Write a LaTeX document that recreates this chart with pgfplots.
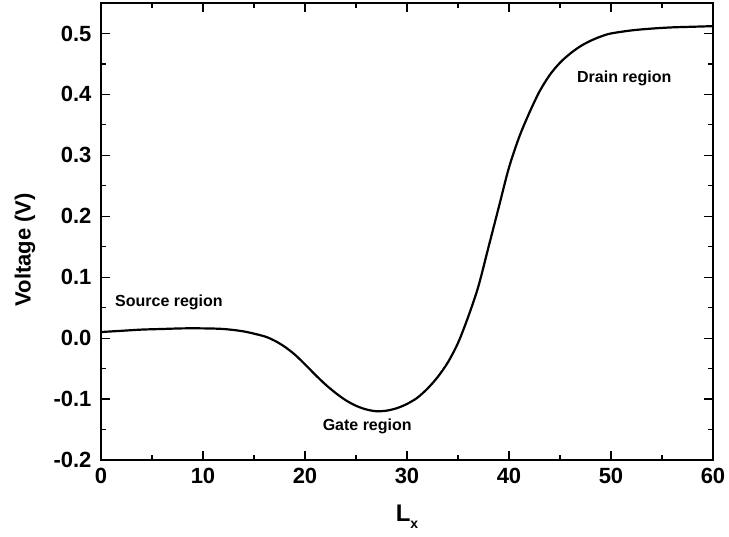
\documentclass[border=0pt]{standalone}
\usepackage{pgfplots}
\pgfplotsset{compat=1.18}
\usepackage{fontspec}
\setmainfont{Liberation Sans}
\begin{document}
\begin{tikzpicture}
\begin{axis}[
  at={(0,0)}, anchor=south west,
  scale only axis,
  width=612pt, height=457pt,
  xmin=0, xmax=60, ymin=-0.2, ymax=0.55,
  axis line style={line width=1.6pt},
  xtick={0,10,...,60},
  xticklabels={0,10,20,30,40,50,60},
  ytick={-0.2,-0.1,0,0.1,0.2,0.3,0.4,0.5},
  yticklabels={-0.2,-0.1,0.0,0.1,0.2,0.3,0.4,0.5},
  minor x tick num=1, minor y tick num=1,
  tick align=inside,
  major tick length=9pt, minor tick length=5pt,
  every tick/.style={black, line width=1.2pt},
  tick label style={font=\fontsize{22}{26}\selectfont\bfseries},
  xticklabel style={yshift=-5pt},
  yticklabel style={xshift=-6pt},
  xlabel={L\raisebox{-7pt}{\fontsize{14}{16}\selectfont x}},
  ylabel={Voltage (V)},
  xlabel style={font=\fontsize{24}{28}\selectfont\bfseries,
    at={(axis description cs:0.5,0)}, anchor=north, yshift=-41pt},
  ylabel style={font=\fontsize{22}{26}\selectfont\bfseries,
    at={(axis description cs:0,0.46)}, anchor=center, yshift=76pt},
  clip=false,
]
\addplot[black, line width=2.2pt, smooth] coordinates {
  (0,0.010) (2,0.012) (4,0.014) (6,0.015) (8,0.016) (10,0.016)
  (12,0.015) (14,0.011) (16,0.003) (17,-0.004) (18,-0.014) (19,-0.027)
  (20,-0.043) (21,-0.060) (22,-0.076) (23,-0.090) (24,-0.102) (25,-0.111)
  (26,-0.117) (27,-0.120) (28,-0.119) (29,-0.115) (30,-0.108) (31,-0.098)
  (32,-0.083) (33,-0.064) (34,-0.040) (35,-0.008) (36,0.035) (37,0.085)
  (38,0.150) (39,0.215) (40,0.280) (41,0.330) (42,0.370) (43,0.405)
  (44,0.432) (45,0.452) (46,0.467) (47,0.479) (48,0.488) (49,0.495)
  (50,0.500) (52,0.505) (54,0.508) (56,0.510) (58,0.511) (60,0.512)
};
\node[font=\fontsize{16}{19}\selectfont\bfseries, anchor=west, inner sep=0pt] at (axis cs:1.37,0.059) {Source region};
\node[font=\fontsize{16}{19}\selectfont\bfseries] at (axis cs:26.1,-0.145) {Gate region};
\node[font=\fontsize{16}{19}\selectfont\bfseries] at (axis cs:51.3,0.426) {Drain region};
\end{axis}
\pgfresetboundingbox
\path[use as bounding box] (-101pt,-77pt) rectangle (628pt,460pt);
\end{tikzpicture}
\end{document}
